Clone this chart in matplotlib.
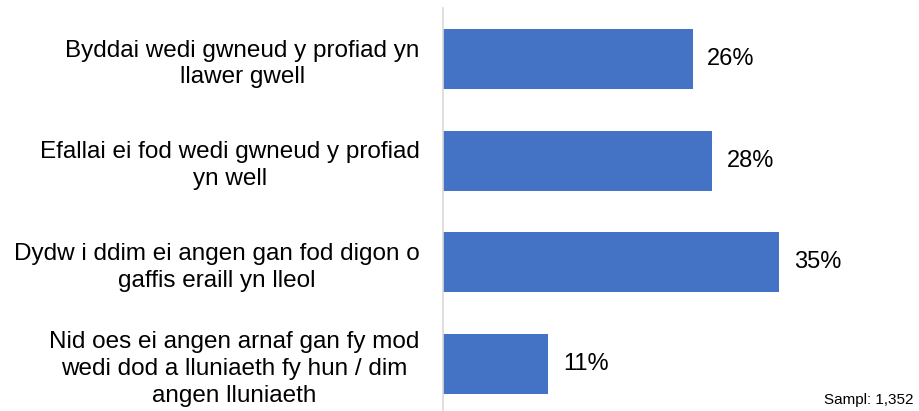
import matplotlib
matplotlib.use("Agg")
import matplotlib.pyplot as plt

categories = [
    "Byddai wedi gwneud y profiad yn\nllawer gwell",
    "Efallai ei fod wedi gwneud y profiad\nyn well",
    "Dydw i ddim ei angen gan fod digon o\ngaffis eraill yn lleol",
    "Nid oes ei angen arnaf gan fy mod\nwedi dod a lluniaeth fy hun / dim\nangen lluniaeth",
]
values = [26, 28, 35, 11]
value_labels = ["26%", "28%", "35%", "11%"]
sample_note = "Sampl: 1,352"

plt.rcParams['font.family'] = ['Liberation Sans', 'DejaVu Sans']

W, H = 919, 411
fig = plt.figure(figsize=(W / 100, H / 100), dpi=100)
left_px = 442.5
top_px = 8
ax = fig.add_axes([left_px / W, 0, (W - left_px) / W, (H - top_px) / H])

pos = list(range(len(values)))
ax.barh(pos, values, height=0.59, color="#4472C4", zorder=2)
ax.set_xlim(0, (W - left_px) / 9.62)
ax.set_ylim((H - 59) / 101.7, -(59 - top_px) / 101.7)

ax.set_yticks(pos)
ax.set_yticklabels(categories, fontsize=17.5, color="#000000")
for lab in ax.get_yticklabels():
    lab.set_multialignment("center")
    lab.set_linespacing(1.28)
ax.tick_params(axis="y", length=0, pad=16.5)
ax.set_xticks([])

for s in ["top", "right", "bottom"]:
    ax.spines[s].set_visible(False)
ax.spines["left"].set_color("#D9D9D9")
ax.spines["left"].set_linewidth(1.2)

for p, v, t in zip(pos, values, value_labels):
    ax.annotate(t, xy=(v, p), xytext=(10.5, 0), textcoords="offset points",
                va="center", ha="left", fontsize=17, color="#000000")

fig.text(913 / W, 1 - 400 / H, sample_note, ha="right", va="center",
         fontsize=11, color="#000000")

fig.savefig("out.png", dpi=100)
